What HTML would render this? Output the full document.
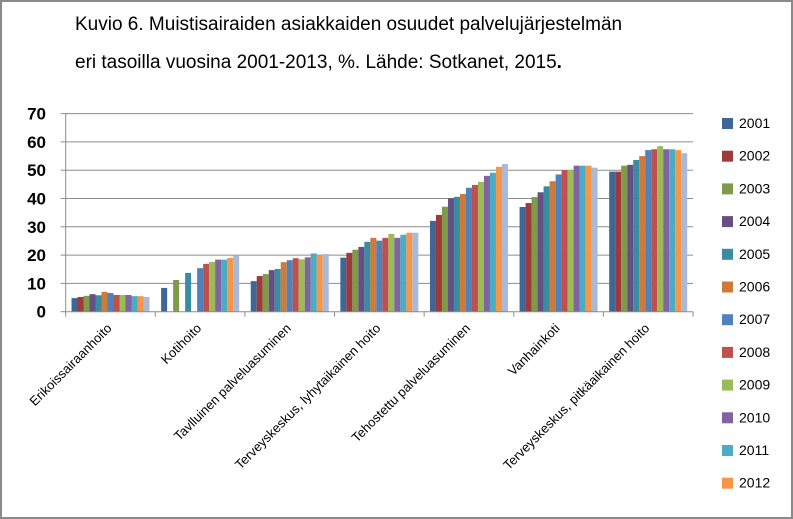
<!DOCTYPE html>
<html><head><meta charset="utf-8"><style>
body{margin:0;background:#fff}
svg{display:block;font-family:"Liberation Sans",sans-serif}
</style></head><body>
<svg id="c" width="793" height="519" viewBox="0 0 793 519">
<rect x="1" y="1" width="791" height="517" fill="#fff" stroke="#8a8a8a" stroke-width="2"/>
<text x="75" y="30" font-size="19" fill="#000">Kuvio 6. Muistisairaiden asiakkaiden osuudet palvelujärjestelmän</text>
<text x="75" y="68" font-size="19" fill="#000">eri tasoilla vuosina 2001-2013, %. Lähde: Sotkanet, 2015<tspan font-weight="bold">.</tspan></text>
<g id="grid"></g><g id="bars"></g><g id="axes"></g><g id="legend"></g>
</svg>
<script>
const categories=["Erikoissairaanhoito","Kotihoito","Tavlluinen palveluasuminen","Terveyskeskus, lyhytaikainen hoito","Tehostettu palveluasuminen","Vanhainkoti","Terveyskeskus, pitkäaikainen hoito"];
const years=["2001","2002","2003","2004","2005","2006","2007","2008","2009","2010","2011","2012","2013"];
const s2001=[4.8,8.4,10.8,19.1,32.1,37.0,49.5];
const s2002=[5.2,null,12.6,20.8,34.2,38.4,49.5];
const s2003=[5.6,11.2,13.3,21.9,37.1,40.5,51.6];
const s2004=[6.2,null,14.7,22.9,40.1,42.2,51.9];
const s2005=[5.8,13.7,15.1,24.7,40.6,44.3,53.6];
const s2006=[7.0,null,17.5,26.1,41.6,46.1,55.0];
const s2007=[6.6,15.4,18.2,25.1,43.8,48.5,57.1];
const s2008=[5.9,16.9,18.9,26.1,44.8,50.0,57.4];
const s2009=[5.9,17.6,18.5,27.5,45.9,50.1,58.5];
const s2010=[5.9,18.4,19.2,26.1,48.0,51.6,57.4];
const s2011=[5.5,18.4,20.6,27.2,49.1,51.6,57.4];
const s2012=[5.5,19.0,19.8,27.9,51.2,51.6,57.1];
const s2013=[5.2,19.8,20.4,27.9,52.2,50.9,56.0];
const yTicks=[0,10,20,30,40,50,60,70];
const series=[s2001,s2002,s2003,s2004,s2005,s2006,s2007,s2008,s2009,s2010,s2011,s2012,s2013];
const colors=["#3E6797","#9E3B3A","#7F9A48","#664F84","#398CA2","#CC7B38","#4F81BD","#C0504D","#9BBB59","#8064A2","#4BACC6","#F79646","#A9B9D8"];
const NS="http://www.w3.org/2000/svg";
const X0=65.7,X1=693,Y0=311.7,YPU=2.83;
const gw=(X1-X0)/categories.length,bw=6;
const y=v=>Y0-v*YPU;
function mk(t,a,p){const e=document.createElementNS(NS,t);for(const k in a)e.setAttribute(k,a[k]);p.appendChild(e);return e;}
const grid=document.getElementById('grid'),bars=document.getElementById('bars'),axes=document.getElementById('axes'),leg=document.getElementById('legend');
yTicks.forEach(t=>{
 if(t>0){const l=mk('line',{x1:X0,x2:X1,y1:y(t),y2:y(t),stroke:'#8c8c8c','stroke-width':1},grid);
 
 }
 const tx=mk('text',{x:46,y:y(t)+6,'text-anchor':'end','font-size':17,'font-weight':'bold'},axes);tx.textContent=t;
 
 
 const tk=mk('line',{x1:X0-5,x2:X0,y1:y(t),y2:y(t),stroke:'#8c8c8c'},axes);
 
 
});
const ya=mk('line',{x1:X0,x2:X0,y1:y(70),y2:Y0,stroke:'#8c8c8c'},axes);


const xa=mk('line',{x1:X0,x2:X1,y1:Y0,y2:Y0,stroke:'#8c8c8c'},axes);


categories.forEach((c,i)=>{
 const gx=X0+gw*i;
 const tk=mk('line',{x1:gx,x2:gx,y1:Y0,y2:Y0+5,stroke:'#8c8c8c'},axes);
 
 
 const cx=gx+gw/2+2;
 const t=mk('text',{x:cx,y:329,'text-anchor':'end','font-size':13,transform:`rotate(-45 ${cx} 329)`},axes);t.textContent=c;
 
 
 const start=gx+(gw-bw*series.length)/2;
 series.forEach((s,j)=>{
  const v=s[i]; if(v==null)return;
  const r=mk('rect',{x:start+j*bw,y:y(v),width:bw,height:v*YPU,fill:colors[j]},bars);
  
  
 });
});
const lx=mk('line',{x1:X1,x2:X1,y1:Y0,y2:Y0+5,stroke:'#8c8c8c'},axes);


years.forEach((yr,j)=>{
 const ly=123+j*32.7;
 if(ly>505)return;
 const g=mk('g',{},leg);
 
 
 mk('rect',{x:722,y:ly-5,width:11,height:11,fill:colors[j]},g);
 const t=mk('text',{x:739,y:ly+5,'font-size':14},g);t.textContent=yr;
});
</script>
</body></html>
